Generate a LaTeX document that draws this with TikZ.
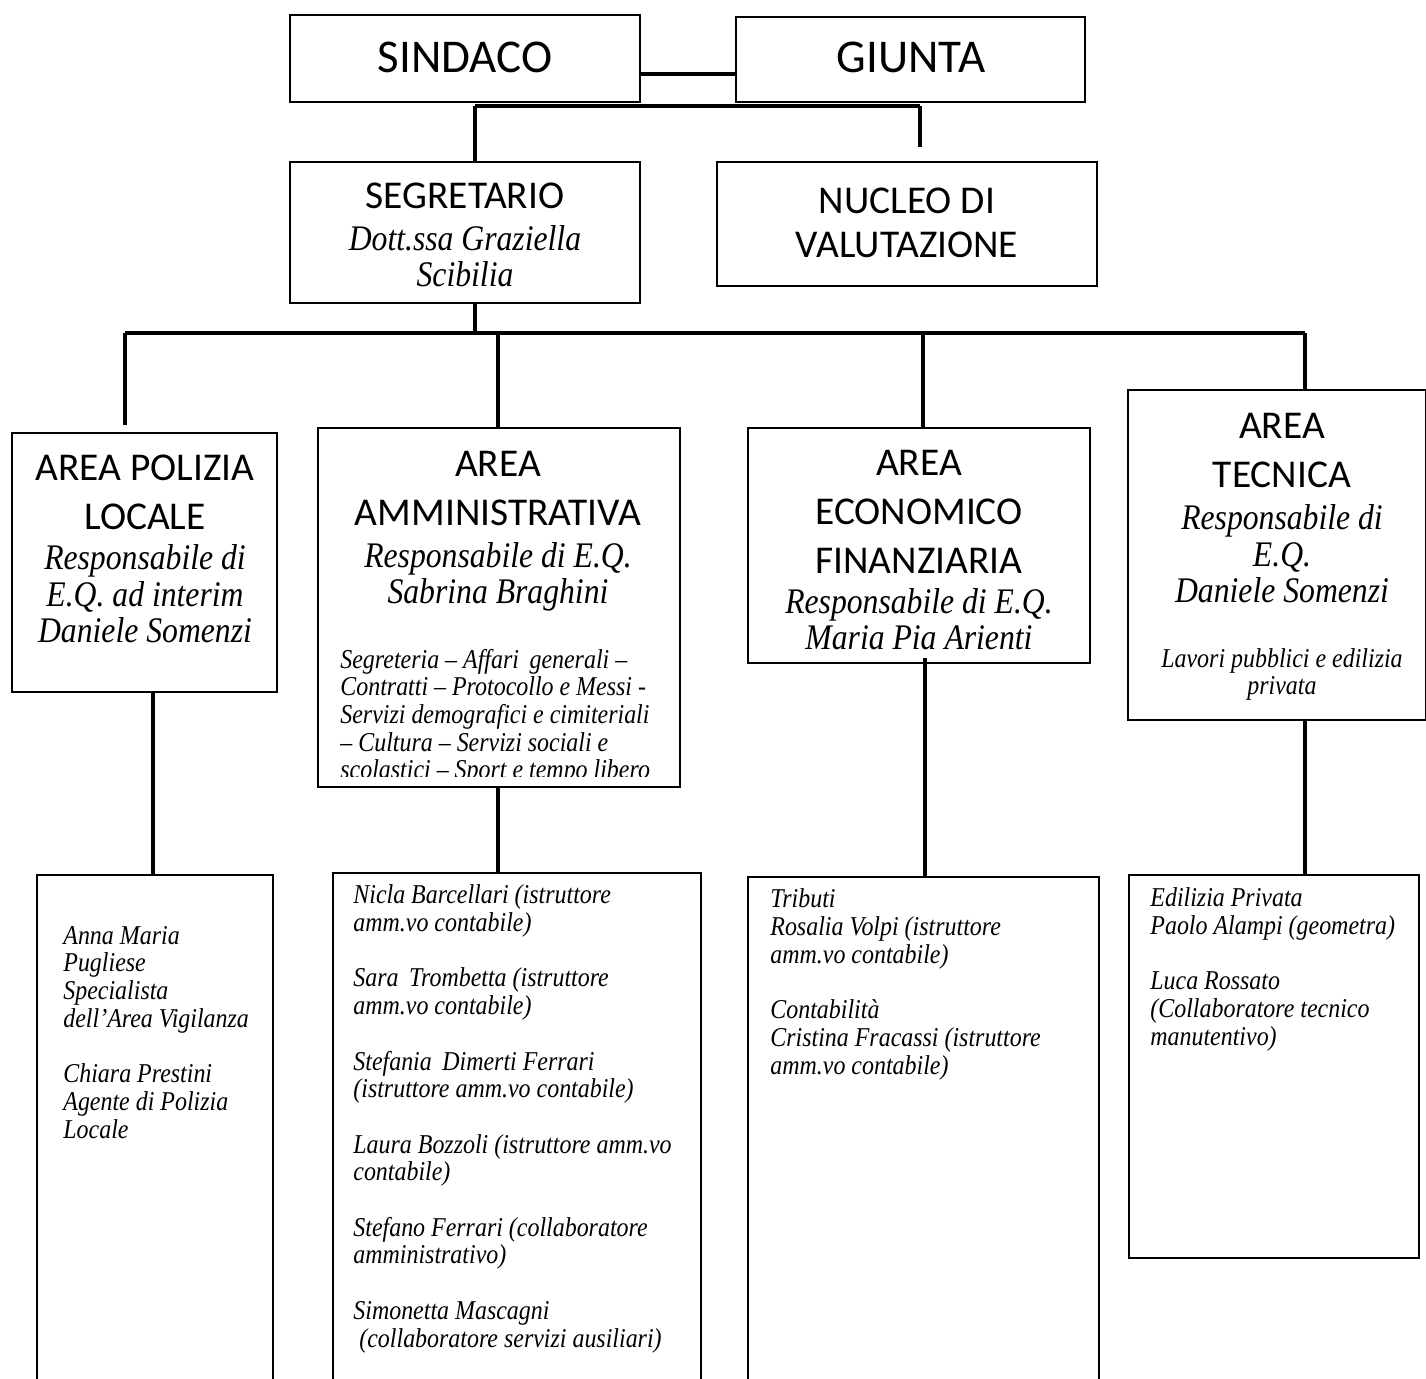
\documentclass[tikz,border=0pt]{standalone}
\usepackage{fontspec}
\setmainfont{Liberation Serif}
\newfontfamily\itfont[FakeStretch=0.88,Ligatures=TeX]{Liberation Serif}
\newfontfamily\hdfont{Carlito}
\usetikzlibrary{fit,calc}
\begin{document}
\begin{tikzpicture}[x=0.5pt,y=-0.5pt,
  box/.style={draw,line width=0.75pt,inner sep=0pt},
  conn/.style={line width=2pt},
  hd/.style={font=\hdfont\fontsize{19.7}{24.5}\selectfont,align=center,anchor=base,inner sep=0pt},
  bighd/.style={font=\hdfont\fontsize{23.5}{28}\selectfont,anchor=base,inner sep=0pt},
  it/.style={font=\itfont\itshape\fontsize{18}{18.3}\selectfont,align=center,anchor=base,inner sep=0pt},
  sm/.style={font=\itfont\itshape\fontsize{13.6}{13.85}\selectfont,align=left,anchor=base west,inner sep=0pt},
  smc/.style={font=\itfont\itshape\fontsize{13.6}{13.6}\selectfont,align=center,anchor=base,inner sep=0pt},
]
\useasboundingbox (0,0) rectangle (1426,1379);
\clip (0,0) rectangle (1426,1379);

% ---- boxes ----
\node[box,fit={(290,15)(640,102)}] (sind) {};
\node[box,fit={(736,17)(1085,102)}] (giun) {};
\node[box,fit={(290,162)(640,303)}] (seg) {};
\node[box,fit={(717,162)(1097,286)}] (nuc) {};
\node[box,fit={(12,433)(277,692)}] (pol) {};
\node[box,fit={(318,428)(680,787)}] (amm) {};
\node[box,fit={(748,428)(1090,663)}] (eco) {};
\node[box,fit={(1128,390)(1426,720)}] (tec) {};
\node[box,fit={(37,875)(273,1400)}] (spol) {};
\node[box,fit={(333,873)(701,1400)}] (samm) {};
\node[box,fit={(748,877)(1099,1400)}] (seco) {};
\node[box,fit={(1129,875)(1419,1258)}] (stec) {};

% ---- texts (anchor = baseline of last line) ----
\node[bighd] (tsind) at (465,73) {SINDACO};
\node[bighd] (tgiun) at (911,73) {GIUNTA};
\node[hd] (tseg) at (465,209) {SEGRETARIO};
\node[it] (tsegn) at (465,287) {Dott.ssa Graziella\\Scibilia};
\node[hd,font=\hdfont\fontsize{19.7}{22}\selectfont] (tnuc) at (907,258) {NUCLEO DI\\VALUTAZIONE};

\node[hd] (tpol) at (145,530) {AREA POLIZIA\\LOCALE};
\node[it] (tpoln) at (145,643) {Responsabile di\\E.Q. ad interim\\Daniele Somenzi};

\node[hd] (tamm) at (498,526) {AREA\\AMMINISTRATIVA};
\node[it] (tammn) at (498,604) {Responsabile di E.Q.\\Sabrina Braghini};
\begin{scope}
\clip (318,428) rectangle (680,777);
\node[sm] (tammd) at (340,779) {Segreteria – Affari\, generali –\\Contratti – Protocollo e Messi -\\Servizi demografici e cimiteriali\\– Cultura – Servizi sociali e\\scolastici – Sport e tempo libero};
\end{scope}

\node[hd] (teco) at (919,574) {AREA\\ECONOMICO\\FINANZIARIA};
\node[it] (tecon) at (919,650) {Responsabile di E.Q.\\Maria Pia Arienti};

\node[hd] (ttec) at (1282,488) {AREA\\TECNICA};
\node[it] (ttecn) at (1282,603) {Responsabile di\\E.Q.\\Daniele Somenzi};
\node[smc] (ttecd) at (1282,695) {Lavori pubblici e edilizia\\privata};

\node[sm] (tspol) at (63,1138) {Anna Maria\\Pugliese\\Specialista\\dell’Area Vigilanza\\[13.85pt]Chiara Prestini\\Agente di Polizia\\Locale};
\node[sm] (tsamm) at (353,1347) {Nicla Barcellari (istruttore\\amm.vo contabile)\\[13.85pt]Sara\, Trombetta (istruttore\\amm.vo contabile)\\[13.85pt]Stefania\, Dimerti Ferrari\\(istruttore amm.vo contabile)\\[13.85pt]Laura Bozzoli (istruttore amm.vo\\contabile)\\[13.85pt]Stefano Ferrari (collaboratore\\amministrativo)\\[13.85pt]Simonetta Mascagni\\\ (collaboratore servizi ausiliari)};
\node[sm] (tseco) at (770,1074) {Tributi\\Rosalia Volpi (istruttore\\amm.vo contabile)\\[13.85pt]Contabilità\\Cristina Fracassi (istruttore\\amm.vo contabile)};
\node[sm] (tstec) at (1150,1045) {Edilizia Privata\\Paolo Alampi (geometra)\\[13.85pt]Luca Rossato\\(Collaboratore tecnico\\manutentivo)};

% ---- connectors ----
\coordinate (j1) at (475,106);
\coordinate (j2) at (920,106);
\coordinate (nstub) at (920,147);
\coordinate (h0) at (475,333);
\coordinate (hl) at (125,333);
\coordinate (hr) at (1305,333);
\coordinate (polstub) at (125,425);
\coordinate (ecostart) at (925,658);

\draw[conn] ($(sind.east)+(0,16)$) -- ($(giun.west)+(0,15)$);
\draw[conn] (j1) -- (j2);
\draw[conn] (j1) -- (j1 |- seg.north);
\draw[conn] (j2) -- (nstub);
\draw[conn] (h0 |- seg.south) -- (h0);
\draw[conn] (hl) -- (hr);
\draw[conn] (hl) -- (polstub);
\draw[conn] (498,333) -- (amm.north -| 498,0);
\draw[conn] (923,333) -- (eco.north -| 923,0);
\draw[conn] (hr) -- (tec.north -| hr);
\draw[conn] (pol.south -| 153,0) -- (spol.north -| 153,0);
\draw[conn] (amm.south -| 498,0) -- (samm.north -| 498,0);
\draw[conn] (ecostart) -- (seco.north -| ecostart);
\draw[conn] (tec.south -| hr) -- (stec.north -| hr);
\end{tikzpicture}
\end{document}
